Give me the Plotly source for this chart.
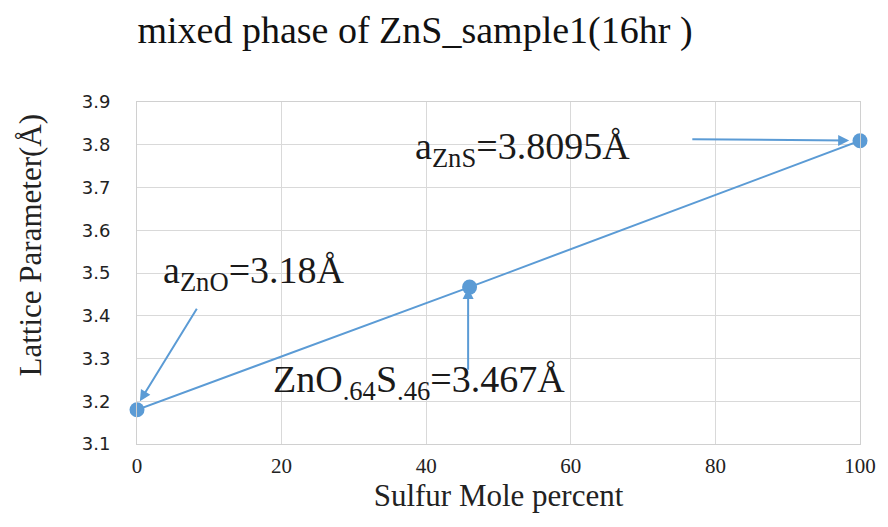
import plotly.graph_objects as go

sulfur_pct = [0, 46, 100]
lattice = [3.18, 3.467, 3.8095]
x_ticks = [0, 20, 40, 60, 80, 100]
y_ticks = [3.1, 3.2, 3.3, 3.4, 3.5, 3.6, 3.7, 3.8, 3.9]

blue = "#5B9BD5"
serif = "Liberation Serif"
sans = "DejaVu Sans"

fig = go.Figure()
fig.add_trace(go.Scatter(
    x=sulfur_pct, y=lattice, mode="lines+markers",
    line=dict(color=blue, width=2),
    marker=dict(color=blue, size=15),
    showlegend=False, cliponaxis=False,
))

ann_font = dict(family=serif, size=38, color="#1a1a1a")
arrow = dict(showarrow=True, arrowhead=2, arrowsize=1.1, arrowwidth=2,
             arrowcolor=blue, axref="x", ayref="y", xref="x", yref="y", text="")

annotations = [
    dict(text="a<sub>ZnO</sub>=3.18Å", x=3.3, y=3.50, xref="x", yref="y",
         xanchor="left", yanchor="middle", showarrow=False, font=ann_font),
    dict(text="ZnO<sub>.64</sub>S<sub>.46</sub>=3.467Å", x=18.5, y=3.245, xref="x", yref="y",
         xanchor="left", yanchor="middle", showarrow=False, font=ann_font),
    dict(text="a<sub>ZnS</sub>=3.8095Å", x=38.2, y=3.79, xref="x", yref="y",
         xanchor="left", yanchor="middle", showarrow=False, font=ann_font),
    dict(arrow, x=0.4, y=3.2, ax=8.4, ay=3.42),
    dict(arrow, x=45.8, y=3.465, ax=45.8, ay=3.27),
    dict(arrow, x=98.5, y=3.81, ax=76.6, ay=3.813),
    dict(text="Lattice Parameter(Å)", textangle=-90, x=(30 - 137) / 726, y=(444 - 245) / 342,
         xref="paper", yref="paper", xanchor="center", yanchor="middle", showarrow=False,
         font=dict(family=serif, size=31, color="#222")),
]

fig.update_layout(
    width=888, height=527,
    margin=dict(l=137, r=25, t=102, b=83),
    paper_bgcolor="white", plot_bgcolor="white",
    title=dict(text="mixed phase of ZnS_sample1(16hr )", x=415 / 888, xanchor="center",
               y=1 - 30 / 527, yanchor="middle", xref="container", yref="container",
               font=dict(family=serif, size=38, color="#111")),
    xaxis=dict(range=[0, 100], tickvals=x_ticks, showgrid=True, gridcolor="#d9d9d9",
               zeroline=False, showline=True, linecolor="#d0d0d0", mirror=True,
               tickfont=dict(family=serif, size=21, color="#222"), ticks="",
               ticklabelstandoff=3,
               title=dict(text="Sulfur Mole percent", font=dict(family=serif, size=31, color="#222"),
                          standoff=3)),
    yaxis=dict(range=[3.1, 3.9], tickvals=y_ticks, tickformat=".1f", showgrid=True,
               gridcolor="#d9d9d9", zeroline=False, showline=True, linecolor="#d0d0d0",
               mirror=True, tickfont=dict(family=sans, size=18, color="#222"), ticks="",
               ticklabelstandoff=22),
    annotations=annotations,
)

fig.write_html("out.html")
